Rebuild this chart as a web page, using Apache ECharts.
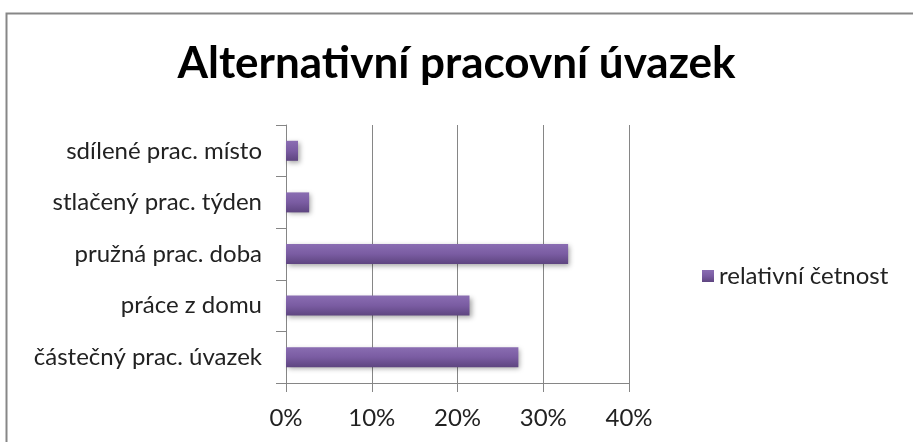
<!DOCTYPE html>
<html>
<head>
<meta charset="utf-8">
<script src="https://cdn.jsdelivr.net/npm/echarts@6/dist/echarts.min.js"></script>
<style>
html,body{margin:0;padding:0;background:#fff;}
#chart{width:913px;height:442px;}
</style>
</head>
<body>
<div id="chart"></div>
<script>
// Data (bottom-to-top order, as ECharts category y axis draws)
const categories = ['částečný prac. úvazek', 'práce z domu', 'pružná prac. doba', 'stlačený prac. týden', 'sdílené prac. místo'];
const values = [0.271, 0.214, 0.329, 0.027, 0.014];
const seriesName = 'relativní četnost';
const titleText = 'Alternativní pracovní úvazek';
const xTicks = [0, 0.1, 0.2, 0.3, 0.4];

const FONT = 'Lato';
const chart = echarts.init(document.getElementById('chart'), null, {renderer: 'canvas'});
chart.setOption({
  backgroundColor: '#fff',
  animation: false,
  title: {
    text: titleText,
    left: 'center',
    top: 37,
    textStyle: {fontFamily: FONT, fontWeight: 'bold', fontSize: 44, color: '#000'}
  },
  legend: {
    data: [seriesName],
    left: 697,
    top: 259,
    icon: 'rect',
    itemWidth: 12,
    itemHeight: 12,
    itemGap: 8,
    textStyle: {fontFamily: FONT, fontSize: 24, color: '#222'}
  },
  grid: {left: 286, right: 284, top: 125, bottom: 59, containLabel: false},
  xAxis: {
    type: 'value',
    min: xTicks[0],
    max: xTicks[xTicks.length - 1],
    interval: 0.1,
    axisLine: {show: true, lineStyle: {color: '#868686', width: 1}},
    axisTick: {show: true, length: 9, lineStyle: {color: '#868686'}},
    splitLine: {show: true, lineStyle: {color: '#868686', width: 1}},
    axisLabel: {
      margin: 23,
      fontFamily: FONT, fontSize: 24, color: '#222',
      formatter: v => Math.round(v * 100) + '%'
    }
  },
  yAxis: {
    type: 'category',
    data: categories,
    axisLine: {show: true, lineStyle: {color: '#868686', width: 1}},
    axisTick: {show: true, length: 10, lineStyle: {color: '#868686'}},
    axisLabel: {margin: 24, fontFamily: FONT, fontSize: 24, color: '#222'}
  },
  series: [{
    name: seriesName,
    type: 'bar',
    data: values,
    barWidth: 20,
    itemStyle: {
      color: new echarts.graphic.LinearGradient(0, 0, 0, 1, [
        {offset: 0, color: '#8a6db2'},
        {offset: 0.5, color: '#7a5ca2'},
        {offset: 1, color: '#5e4580'}
      ]),
      shadowBlur: 5,
      shadowColor: 'rgba(0,0,0,0.35)',
      shadowOffsetX: 2,
      shadowOffsetY: 2
    }
  }],
  graphic: [{
    type: 'rect',
    silent: true,
    shape: {x: 6.5, y: 13.5, width: 1000, height: 1000},
    style: {fill: 'none', stroke: '#878787', lineWidth: 2}
  }]
});
</script>
</body>
</html>
